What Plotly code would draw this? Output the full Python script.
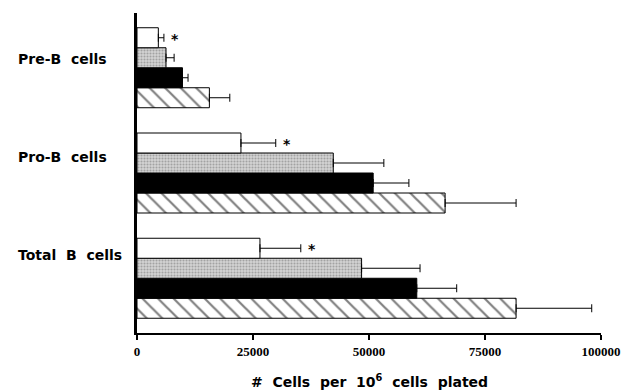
import plotly.graph_objects as go

categories = ["Total  B  cells", "Pro-B  cells", "Pre-B  cells"]
label_raise = [0.22, 0.15, 0.08]
white_vals = [26500, 22400, 4600]
white_err = [8800, 7500, 1200]
gray_vals = [48400, 42300, 6250]
gray_err = [12600, 10900, 1750]
black_vals = [60300, 50900, 9800]
black_err = [8600, 7700, 1200]
hatch_vals = [81700, 66400, 15600]
hatch_err = [16300, 15300, 4400]
x_ticks = [0, 25000, 50000, 75000, 100000]

ypos = list(range(len(categories)))

def err(a):
    return dict(type="data", array=a, arrayminus=[0] * len(a), symmetric=False,
                color="black", thickness=1, width=4)

fig = go.Figure()
# bottom to top within group: hatched, black, gray, white
fig.add_trace(go.Bar(y=ypos, x=hatch_vals, orientation="h", error_x=err(hatch_err),
                     marker=dict(color="white", line=dict(color="black", width=1),
                                 pattern=dict(shape="\\", fgcolor="black", bgcolor="white",
                                              size=11, solidity=0.2))))
fig.add_trace(go.Bar(y=ypos, x=black_vals, orientation="h", error_x=err(black_err),
                     marker=dict(color="black", line=dict(color="black", width=1))))
fig.add_trace(go.Bar(y=ypos, x=gray_vals, orientation="h", error_x=err(gray_err),
                     marker=dict(color="#c8c8c8", line=dict(color="black", width=1),
                                 pattern=dict(shape=".", fgcolor="#707070", bgcolor="#d4d4d4",
                                              size=3, solidity=0.4))))
fig.add_trace(go.Bar(y=ypos, x=white_vals, orientation="h", error_x=err(white_err),
                     marker=dict(color="white", line=dict(color="black", width=1))))

annotations = []
for i, c in enumerate(categories):
    annotations.append(dict(x=0, xref="paper", y=i + label_raise[i], yref="y",
                            text="<b>" + c + "</b>", showarrow=False, xanchor="left",
                            xshift=-121, font=dict(family="DejaVu Sans", size=14, color="black")))
    annotations.append(dict(x=white_vals[i] + white_err[i], xref="x", y=i + 0.285, yref="y",
                            text="<b>*</b>", showarrow=False, xanchor="left", xshift=5, yshift=-1,
                            font=dict(family="DejaVu Sans", size=14, color="black")))
annotations.append(dict(x=0.5, xref="paper", y=0, yref="paper", yshift=-48, yanchor="middle",
                        text="<b>#  Cells  per  10<sup>6</sup>  cells  plated</b>", showarrow=False,
                        font=dict(family="DejaVu Sans", size=14, color="black")))

fig.update_layout(
    width=632, height=392, margin=dict(l=137, r=31, t=13, b=59),
    paper_bgcolor="white", plot_bgcolor="white", showlegend=False,
    barmode="group", bargap=0.24, bargroupgap=0,
    annotations=annotations,
    xaxis=dict(range=[0, 100000], tickvals=x_ticks, ticktext=[str(v) for v in x_ticks],
               showgrid=False, zeroline=False, showline=True, linecolor="black", linewidth=2,
               ticks="outside", ticklen=5, tickcolor="black", tickwidth=1.5,
               tickfont=dict(family="Liberation Serif", size=13, color="black", weight="bold")),
    yaxis=dict(range=[-0.52, 2.52], showticklabels=False, showgrid=False, zeroline=False,
               showline=True, linecolor="black", linewidth=2.5, ticks=""),
)
fig.write_html("out.html")
